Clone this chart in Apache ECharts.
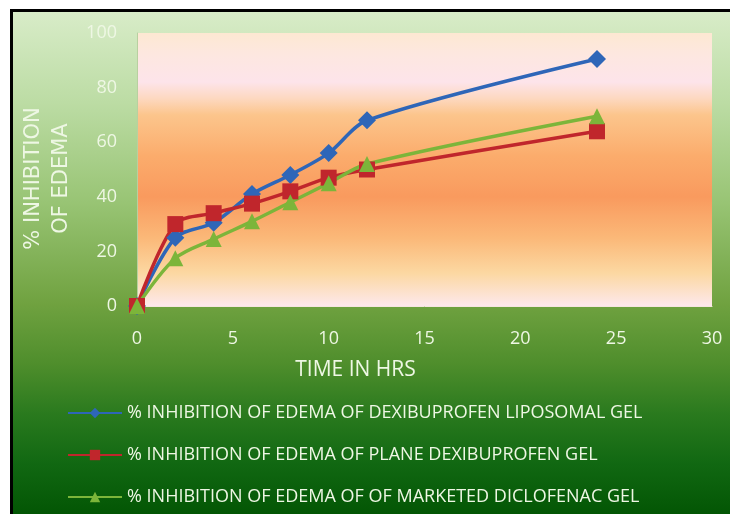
<!DOCTYPE html>
<html>
<head>
<meta charset="utf-8">
<script src="https://cdn.jsdelivr.net/npm/echarts@6/dist/echarts.min.js"></script>
<style>
  html, body { margin: 0; padding: 0; background: #ffffff; }
  #frame {
    position: absolute; left: 10px; top: 9px; width: 717px; height: 502px;
    border-top: 3px solid #000; border-left: 3px solid #000;
    background: linear-gradient(to bottom, #d8ecc8 0%, #bcdca4 18%, #98c474 38%, #70a240 58%, #4f8e2c 70%, #2a7a1e 80%, #116812 90%, #035604 100%);
  }
  #chart { position: absolute; left: 0; top: 0; width: 730px; height: 514px; }
</style>
</head>
<body>
<div id="frame"></div>
<div id="chart"></div>
<script>
// Time points (hours) and % inhibition of edema for each formulation
const hours = [0, 2, 4, 6, 8, 10, 12, 24];
const liposomalGel = [0, 25, 30.5, 41, 48, 56, 68, 90.5];
const planeGel = [0, 30, 34, 37.5, 42, 47, 50, 64];
const diclofenacGel = [0, 17.5, 24.5, 31, 38, 45, 52, 69.5];

const seriesNames = [
  '% INHIBITION OF EDEMA OF DEXIBUPROFEN LIPOSOMAL GEL',
  '% INHIBITION OF EDEMA OF PLANE DEXIBUPROFEN GEL',
  '% INHIBITION OF EDEMA OF OF MARKETED DICLOFENAC GEL'
];
const xTicks = { min: 0, max: 30, step: 5 };
const yTicks = { min: 0, max: 100, step: 20 };

const pair = (vals) => hours.map((h, i) => [h, vals[i]]);
const narrow = "'Open Sans', sans-serif";
const labelColor = '#eef7e4';

const chart = echarts.init(document.getElementById('chart'));

const plotFill = new echarts.graphic.LinearGradient(0, 0, 0, 1, [
  { offset: 0.00, color: '#fde8d2' },
  { offset: 0.08, color: '#fde7e0' },
  { offset: 0.18, color: '#fde4ea' },
  { offset: 0.24, color: '#fdd8c0' },
  { offset: 0.30, color: '#fcc58c' },
  { offset: 0.45, color: '#fbac6c' },
  { offset: 0.60, color: '#f99a5e' },
  { offset: 0.75, color: '#fbb878' },
  { offset: 0.88, color: '#fcd8a2' },
  { offset: 1.00, color: '#fde8ec' }
]);

function lineSeries(name, vals, color, symbol, size) {
  return {
    name: name,
    type: 'line',
    data: pair(vals),
    smooth: 0.3,
    symbol: symbol,
    symbolSize: size,
    clip: false,
    lineStyle: { color: color, width: 3.5 },
    itemStyle: { color: color }
  };
}

chart.setOption({
  animation: false,
  grid: {
    left: 137, right: 18, top: 33, bottom: 208,
    show: true, backgroundColor: plotFill, borderWidth: 0
  },
  xAxis: {
    type: 'value',
    min: xTicks.min, max: xTicks.max, interval: xTicks.step,
    splitLine: { show: false },
    axisTick: { show: false },
    axisLine: { show: true, lineStyle: { color: '#f6e6e0', width: 1 } },
    axisLabel: { color: labelColor, fontFamily: narrow, fontSize: 18, margin: 24 },
    name: 'TIME IN HRS',
    nameLocation: 'middle',
    nameGap: 54,
    nameTextStyle: { color: labelColor, fontFamily: narrow, fontSize: 21, padding: [0, 138, 0, 0] }
  },
  yAxis: {
    type: 'value',
    min: yTicks.min, max: yTicks.max, interval: yTicks.step,
    splitLine: { show: false },
    axisTick: { show: false },
    axisLine: { show: true, lineStyle: { color: '#b8d0a0', width: 1 } },
    axisLabel: { color: labelColor, fontFamily: narrow, fontSize: 18, margin: 20 },
    name: '% INHIBITION\nOF EDEMA',
    nameLocation: 'middle',
    nameRotate: 90,
    nameGap: 46,
    nameTextStyle: {
      color: labelColor, fontFamily: "'DejaVu Sans', sans-serif", fontSize: 21,
      lineHeight: 28, padding: [0, 18, 0, 0]
    }
  },
  legend: {
    orient: 'vertical',
    left: 62, top: 399,
    itemWidth: 54, itemHeight: 13,
    itemGap: 24,
    textStyle: { color: labelColor, fontFamily: narrow, fontSize: 18, lineHeight: 18 },
    data: seriesNames
  },
  series: [
    lineSeries(seriesNames[0], liposomalGel, '#2e66b8', 'diamond', 18),
    lineSeries(seriesNames[1], planeGel, '#c0262c', 'rect', 16),
    lineSeries(seriesNames[2], diclofenacGel, '#7cb53a', 'triangle', 16)
  ]
});
</script>
</body>
</html>
